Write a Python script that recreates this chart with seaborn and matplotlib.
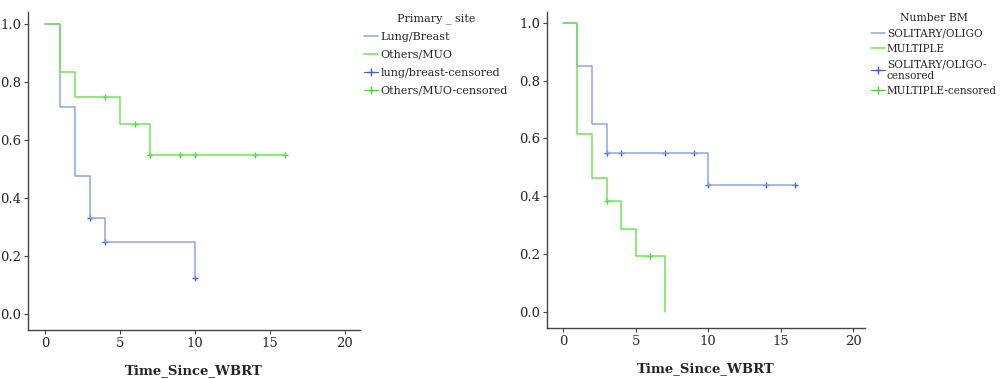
import matplotlib
matplotlib.use("Agg")
import matplotlib.pyplot as plt
from matplotlib.lines import Line2D
import seaborn as sns
import pandas as pd

# Kaplan-Meier step data
# left panel: primary site
lung_t = [0, 1, 2, 3, 4, 10]
lung_s = [1.0, 0.714, 0.476, 0.333, 0.25, 0.125]
lung_cens_t = [3, 4, 10]
lung_cens_s = [0.333, 0.25, 0.125]

oth_t = [0, 1, 2, 5, 7, 16]
oth_s = [1.0, 0.833, 0.75, 0.656, 0.547, 0.547]
oth_cens_t = [4, 6, 7, 9, 10, 14, 16]
oth_cens_s = [0.75, 0.656, 0.547, 0.547, 0.547, 0.547, 0.547]

# right panel: number of brain metastases
sol_t = [0, 1, 2, 3, 10, 16]
sol_s = [1.0, 0.85, 0.65, 0.55, 0.44, 0.44]
sol_cens_t = [3, 4, 7, 9, 10, 14, 16]
sol_cens_s = [0.55, 0.55, 0.55, 0.55, 0.44, 0.44, 0.44]

mul_t = [0, 1, 2, 3, 4, 5, 7]
mul_s = [1.0, 0.615, 0.462, 0.385, 0.288, 0.192, 0.0]
mul_cens_t = [3, 6]
mul_cens_s = [0.385, 0.192]

blue_line = "#8ea6e6"
green_line = "#6fe455"
blue_mark = "#3f5fd6"
green_mark = "#4bd23a"

sns.set_style("ticks")
plt.rcParams["font.family"] = ["DejaVu Serif"]

fig = plt.figure(figsize=(10, 3.79), dpi=100)
ax1 = fig.add_axes([0.028, 0.129, 0.332, 0.839])
ax2 = fig.add_axes([0.547, 0.135, 0.318, 0.834])


def km_panel(ax, curves, xlim, ylim):
    for t, s, ct, cs, lc, mc in curves:
        df = pd.DataFrame({"t": t, "s": s})
        sns.lineplot(data=df, x="t", y="s", ax=ax, color=lc, lw=1.1,
                     drawstyle="steps-post", estimator=None)
        cdf = pd.DataFrame({"t": ct, "s": cs})
        sns.scatterplot(data=cdf, x="t", y="s", ax=ax, color=mc, marker="+",
                        s=25, linewidth=1.0)
    ax.set_xlim(*xlim)
    ax.set_ylim(*ylim)
    ax.set_xticks([0, 5, 10, 15, 20])
    ax.set_yticks([0.0, 0.2, 0.4, 0.6, 0.8, 1.0])
    ax.set_yticklabels(["0.0", "0.2", "0.4", "0.6", "0.8", "1.0"])
    ax.set_xlabel("Time_Since_WBRT", fontsize=9.5, fontweight="bold", labelpad=10)
    ax.set_ylabel("")
    ax.tick_params(labelsize=9.5, length=3, pad=2, color="#444444")
    for sp in ["top", "right"]:
        ax.spines[sp].set_visible(False)
    for sp in ["left", "bottom"]:
        ax.spines[sp].set_color("#444444")
        ax.spines[sp].set_linewidth(1.0)


km_panel(ax1, [
    (lung_t, lung_s, lung_cens_t, lung_cens_s, blue_line, blue_mark),
    (oth_t, oth_s, oth_cens_t, oth_cens_s, green_line, green_mark),
], (-1.13, 21), (-0.055, 1.041))

km_panel(ax2, [
    (sol_t, sol_s, sol_cens_t, sol_cens_s, blue_line, blue_mark),
    (mul_t, mul_s, mul_cens_t, mul_cens_s, green_line, green_mark),
], (-1.1, 20.8), (-0.055, 1.038))

h1 = [Line2D([], [], color=blue_line, lw=1.1),
      Line2D([], [], color=green_line, lw=1.1),
      Line2D([], [], color=blue_mark, lw=0.8, marker="+", markersize=6),
      Line2D([], [], color=green_mark, lw=0.8, marker="+", markersize=6)]

leg_kw = dict(loc="upper left", frameon=False, handlelength=1.3,
              handletextpad=0.2, borderaxespad=0, borderpad=0)

leg1 = fig.legend(h1, ["Lung/Breast", "Others/MUO", "lung/breast-censored",
                       "Others/MUO-censored"],
                  title="Primary _ site", bbox_to_anchor=(0.364, 0.965),
                  labelspacing=0.72, fontsize=8, title_fontsize=8, **leg_kw)

leg2 = fig.legend(h1, ["SOLITARY/OLIGO", "MULTIPLE", "SOLITARY/OLIGO-\ncensored",
                       "MULTIPLE-censored"],
                  title="Number BM", bbox_to_anchor=(0.871, 0.965),
                  labelspacing=0.5, fontsize=7.6, title_fontsize=7.8, **leg_kw)

fig.savefig("out.png", dpi=100)
